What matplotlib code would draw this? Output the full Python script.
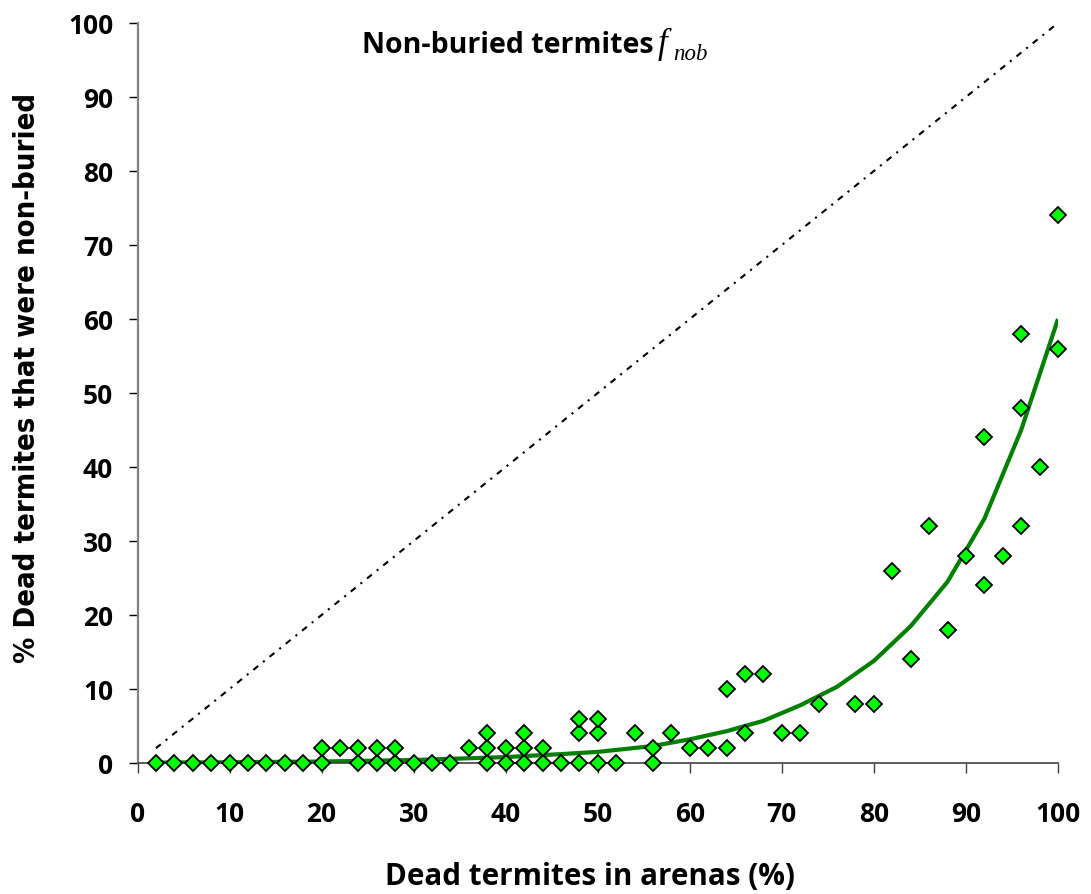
import matplotlib
matplotlib.use("Agg")
import matplotlib.pyplot as plt

# ---- data ----
dead_pct = [2, 4, 6, 8, 10, 12, 14, 16, 18, 20, 20, 22, 24, 24, 26, 26, 28, 28,
            30, 32, 34, 36, 38, 38, 38, 40, 40, 42, 42, 42, 44, 44, 46,
            48, 48, 48, 50, 50, 50, 52, 54, 56, 56, 58, 60, 62, 64, 64,
            66, 66, 68, 70, 72, 74, 78, 80, 82, 84, 86, 88, 90, 92, 92,
            94, 96, 96, 96, 98, 100, 100]
nonburied_pct = [0, 0, 0, 0, 0, 0, 0, 0, 0, 0, 2, 2, 0, 2, 0, 2, 0, 2,
                 0, 0, 0, 2, 0, 2, 4, 0, 2, 0, 2, 4, 0, 2, 0,
                 0, 4, 6, 0, 4, 6, 0, 4, 0, 2, 4, 2, 2, 2, 10,
                 4, 12, 12, 4, 4, 8, 8, 8, 26, 14, 32, 18, 28, 24, 44,
                 28, 32, 48, 58, 40, 56, 74]

trend_x = [2, 10, 20, 30, 40, 46, 50, 56, 60, 64, 68, 72, 76, 80, 84, 88, 92, 96, 100]
trend_y = [0.05, 0.1, 0.2, 0.4, 0.8, 1.2, 1.5, 2.3, 3.2, 4.3, 5.7, 7.8, 10.3, 13.8,
           18.5, 24.5, 33.0, 45.0, 60.0]

diag_x = [2, 100]
diag_y = [2, 100]

xticks = list(range(0, 101, 10))
yticks = list(range(0, 101, 10))

title_main = "Non-buried termites"
xlabel = "Dead termites in arenas (%)"
ylabel = "% Dead termites that were non-buried"

# ---- figure ----
W, H = 1091, 895
fig = plt.figure(figsize=(W / 100, H / 100), dpi=100)

def px(x, y):
    return x / W, 1 - y / H

left, right, top, bottom = 137.5, 1058, 24, 764
ax = fig.add_axes([left / W, 1 - bottom / H, (right - left) / W, (bottom - top) / H])
ax.set_xlim(0, 100)
ax.set_ylim(0, 100)

sans = ['Open Sans', 'DejaVu Sans']

ax.plot(diag_x, diag_y, color='black', lw=1.5, linestyle=(0, (3, 3, 1, 3)), zorder=1)
ax.plot(trend_x, trend_y, color='#007F00', lw=3, zorder=2, solid_capstyle='butt')
ax.plot(dead_pct, nonburied_pct, linestyle='none', marker='D', ms=8.2,
        markerfacecolor='#00FF00', markeredgecolor='black', markeredgewidth=1.3,
        zorder=3, clip_on=False)

for s in ['top', 'right']:
    ax.spines[s].set_visible(False)
ax.spines['left'].set_color('#808080')
ax.spines['left'].set_linewidth(1.6)
ax.spines['bottom'].set_color('#404040')
ax.spines['bottom'].set_linewidth(1.2)

ax.set_xticks(xticks)
ax.set_yticks(yticks)
ax.tick_params(axis='y', direction='out', length=6.5, width=1, color='black', pad=11)
ax.tick_params(axis='x', direction='out', length=7, width=1, color='#404040', pad=20)
for lab in ax.get_xticklabels() + ax.get_yticklabels():
    lab.set_family(sans)
    lab.set_fontweight('bold')
    lab.set_fontsize(19)

fig.text(*px(590, 885), xlabel, ha='center', va='baseline', family=sans,
         fontweight='bold', fontsize=21.3)
fig.text(*px(27, 378), ylabel, ha='center', va='center', rotation=90,
         family='DejaVu Sans', fontstretch='condensed', fontweight='bold', fontsize=21)

fig.text(*px(362, 53), title_main, ha='left', va='baseline', family=sans,
         fontweight='bold', fontsize=20.5)
fig.text(*px(658, 53), "f", ha='left', va='baseline',
         family=['Liberation Serif', 'DejaVu Serif'], style='italic', fontsize=25)
fig.text(*px(673, 60), "nob", ha='left', va='baseline',
         family=['Liberation Serif', 'DejaVu Serif'], style='italic', fontsize=16.5)

fig.savefig("out.png", dpi=100)
